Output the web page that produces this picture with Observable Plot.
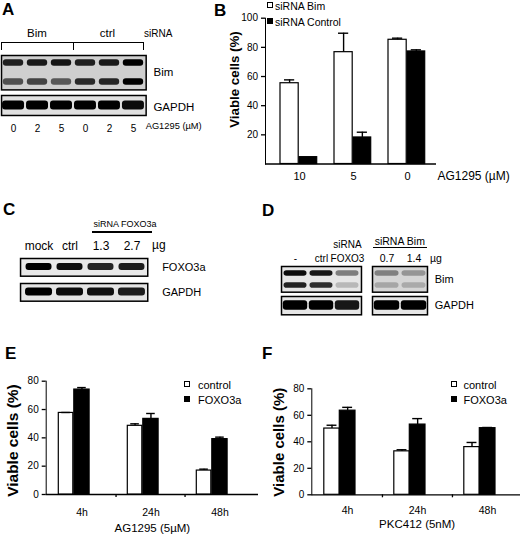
<!DOCTYPE html>
<html><head><meta charset="utf-8">
<script src="https://cdn.jsdelivr.net/npm/d3@7"></script>
<script src="https://cdn.jsdelivr.net/npm/@observablehq/plot@0.6"></script>
<style>
body{margin:0;background:#fff;}
#fig{position:relative;width:520px;height:543px;overflow:hidden;background:#fff;font-family:"Liberation Sans",Arial,Helvetica,sans-serif;color:#000;}
#fig .abs{position:absolute;line-height:1;white-space:nowrap;}
#fig .box{position:absolute;box-sizing:border-box;}
#fig svg{overflow:visible;max-width:none;}
#fig g[aria-label^="y-axis"] line, #fig g[aria-label^="y-axis"] path{stroke-width:1.3px;}
</style></head><body>
<svg width="0" height="0" style="position:absolute"><defs><filter id="blotblur" x="-30%" y="-80%" width="160%" height="260%"><feGaussianBlur stdDeviation="0.75"/></filter></defs></svg>
<div id="fig"></div>
<script>
// ---------- data: panel B ----------
const bDoses = ["10", "5", "0"];
const bSiBim = [55.4, 76.7, 85.2];
const bSiBimSem = [2.3, 13.0, 1.1];
const bSiCtrl = [4.7, 18.2, 77.2];
const bSiCtrlSem = [0, 3.6, 1.1];

// ---------- data: panels E, F ----------
const timeLabels = ["4h", "24h", "48h"];
const eControl = [57.6, 48.5, 16.9];
const eControlSem = [0.3, 1.4, 1.0];
const eFoxo = [74.1, 53.4, 39.1];
const eFoxoSem = [1.4, 3.8, 1.4];
const fControl = [50.0, 32.8, 36.0];
const fControlSem = [2.5, 1.2, 3.5];
const fFoxo = [63.5, 53.0, 50.3];
const fFoxoSem = [2.5, 4.5, 0.5];

// ---------- data: blots (relative band intensity) ----------
const aLanes = ["0", "2", "5", "0", "2", "5"];
const aBimUpper = [0.85, 0.88, 0.9, 0.85, 0.88, 1.0];
const aBimLower = [0.62, 0.68, 0.58, 0.8, 0.82, 1.0];
const aGapdh = [1, 1, 1, 1, 1, 0.95];
const cLanes = ["mock", "ctrl", "1.3", "2.7"];
const cFoxo = [1.0, 0.95, 0.85, 0.88];
const cGapdh = [1.0, 0.95, 0.92, 0.88];
const dLanesL = ["-", "ctrl", "siRNA\nFOXO3"];
const dLanesR = ["0.7", "1.4"];
const dBimUpperL = [0.95, 0.9, 0.45];
const dBimLowerL = [0.85, 0.8, 0.2];
const dBimUpperR = [0.4, 0.3];
const dBimLowerR = [0.22, 0.2];
const dGapdhL = [1, 1, 0.9];
const dGapdhR = [1, 1];

const FONT = '"Liberation Sans", Arial, Helvetica, sans-serif';
const fig = document.getElementById("fig");

function place(node, left, top) {
  const d = document.createElement("div");
  d.style.cssText = `position:absolute;left:${left}px;top:${top}px;`;
  d.appendChild(node);
  fig.appendChild(d);
}
function T(text, x, y, size, opt = {}) {
  const d = document.createElement("div");
  d.className = "abs";
  d.textContent = text;
  d.style.left = x + "px"; d.style.top = y + "px"; d.style.fontSize = size + "px";
  if (opt.weight) d.style.fontWeight = opt.weight;
  const tx = opt.anchor === "middle" ? "-50%" : opt.anchor === "end" ? "-100%" : "0";
  d.style.transform = `translate(${tx},-50%)`;
  fig.appendChild(d);
}
function B(x, y, w, h, css) {
  const d = document.createElement("div");
  d.className = "box";
  d.style.cssText += `left:${x}px;top:${y}px;width:${w}px;height:${h}px;${css}`;
  fig.appendChild(d);
}
function sq(x, yc, fill) { B(x, yc - 3, 6, 6, `border:1px solid #000;background:${fill};`); }

function barChart(o) {
  const n = o.groups.length;
  const po = o.po || 0;
  const bw = (o.xRange[1] - o.xRange[0]) / (n + 2 * po);
  const ppu = (o.height - o.mT - o.mB) / (o.yDomain[1] - o.yDomain[0]);
  const marks = [Plot.ruleY([0], {strokeWidth: 1.3})];
  for (const s of o.series) {
    const data = o.groups.map((g, i) => ({group: g, value: s.vals[i], sem: s.sems[i]}));
    const [L, R] = s.inset;
    const c = (L + bw - R) / 2;
    marks.push(Plot.barY(data, {x: "group", y: "value", fill: s.fill, stroke: "#000", strokeWidth: 1.2, insetLeft: L, insetRight: R}));
    const ed = data.filter(d => d.sem > 0);
    marks.push(Plot.ruleX(ed, {x: "group", y1: "value", y2: d => d.value + d.sem, dx: c - bw / 2, strokeWidth: 1.4}));
    marks.push(Plot.tickY(ed, {x: "group", y: d => d.value + d.sem, insetLeft: c - o.capW / 2, insetRight: bw - c - o.capW / 2, strokeWidth: 1.4}));
  }
  if (o.boundaryTicks) {
    marks.push(Plot.ruleX(o.groups.slice(1), {x: d => d, dx: -bw / 2, y1: 0, y2: -3 / ppu, strokeWidth: 1.3}));
  }
  marks.push(Plot.text(o.groups, {x: d => d, text: d => d, frameAnchor: "bottom", dy: o.xTickDy, fontSize: o.xTickSize}));
  if (o.xLabelRight) {
    marks.push(Plot.text([o.xLabel], {frameAnchor: "bottom-right", textAnchor: "start", dx: 1, dy: o.xLabelDy, fontSize: o.xLabelSize}));
  } else {
    marks.push(Plot.text([o.xLabel], {frameAnchor: "bottom", textAnchor: "middle", dy: o.xLabelDy, fontSize: o.xLabelSize}));
  }
  marks.push(Plot.text(["Viable cells (%)"], {frameAnchor: "left", textAnchor: "middle", lineAnchor: "middle", dx: o.yLabelDx, dy: o.yLabelDy, rotate: -90, fontWeight: "bold", fontSize: o.yLabelSize}));
  const svg = Plot.plot({
    width: o.width, height: o.height,
    marginLeft: o.mL, marginRight: o.mR, marginTop: o.mT, marginBottom: o.mB,
    style: {background: "transparent", overflow: "visible", maxWidth: "none", fontFamily: FONT, fontSize: "10px", color: "#000"},
    x: {domain: o.groups, range: o.xRange, paddingInner: 0, paddingOuter: po, align: o.align ?? 0.5, axis: null},
    y: {domain: o.yDomain, ticks: o.yTicks, tickSize: 4, tickPadding: 3.5, line: true, label: null, tickFormat: d => String(d)},
    marks
  });
  place(svg, o.left, o.top);
}

function strip(o) {
  const n = o.lanes.length;
  const data = [];
  o.rows.forEach(r => r.values.forEach((v, i) => data.push({lane: i, row: r.name, v})));
  const marks = [
    Plot.frame({fill: o.bg}),
    Plot.cell(data, {x: "lane", y: "row", fill: "#000", fillOpacity: d => d.v, rx: 3,
      insetLeft: o.inset[0], insetRight: o.inset[0], insetTop: o.inset[1], insetBottom: o.inset[1]}),
    Plot.frame({stroke: "#000", strokeWidth: 1.5})
  ];
  if (o.label) marks.push(Plot.text([o.label], {frameAnchor: "right", dx: o.labelDx, dy: o.labelDy || 0, textAnchor: "start", fontSize: o.labelSize}));
  if (o.laneLabels) marks.push(Plot.text(o.lanes.map((t, i) => ({i, t})), {x: "i", text: "t", frameAnchor: o.laneAt, textAnchor: "middle", dy: o.laneDy, lineAnchor: o.laneLineAnchor || "middle", lineHeight: 1.4, fontSize: o.laneSize}));
  const svg = Plot.plot({
    width: o.w, height: o.h, margin: 0,
    style: {background: "transparent", overflow: "visible", maxWidth: "none", fontFamily: FONT, fontSize: "10px", color: "#000"},
    x: {domain: d3.range(n), paddingInner: 0, paddingOuter: o.po || 0, align: o.align ?? 0.5, axis: null},
    y: {domain: o.rows.map(r => r.name), paddingInner: o.rowPad || 0, paddingOuter: 0, axis: null},
    opacity: {domain: [0, 1], range: [0, 1]},
    marks
  });
  svg.querySelectorAll('g[aria-label="cell"]').forEach(g => g.setAttribute("filter", "url(#blotblur)"));
  place(svg, o.left, o.top);
}

// ---------------- Panel A ----------------
T("A", 2, 9, 17, {weight: "bold"});
T("Bim", 37, 34, 11.5, {anchor: "middle"});
T("ctrl", 107.5, 34, 11.5, {anchor: "middle"});
T("siRNA", 144, 34, 10);
B(1, 42.3, 71.7, 7.5, "border-top:1.3px solid #000;border-left:1.3px solid #000;");
B(72.7, 42.3, 71.6, 7.5, "border-top:1.3px solid #000;border-left:1.3px solid #000;border-right:1.3px solid #000;");
strip({left: 1, top: 55.3, w: 144.7, h: 34.4, lanes: aLanes, bg: "#cfcfcf",
  rows: [{name: "upper", values: aBimUpper}, {name: "lower", values: aBimLower}], rowPad: 0.2,
  inset: [1.8, 4.2], label: "Bim", labelDx: 7.3, labelDy: -0.8, labelSize: 11.5});
strip({left: 1, top: 94.7, w: 144.7, h: 20, lanes: aLanes, bg: "#e0e0e0",
  rows: [{name: "GAPDH", values: aGapdh}], inset: [1, 5.5],
  label: "GAPDH", labelDx: 7.3, labelDy: 1.5, labelSize: 11.5,
  laneLabels: true, laneAt: "bottom", laneDy: 12, laneSize: 10});
T("AG1295 (µM)", 145.7, 126.7, 9.3);

// ---------------- Panel B ----------------
T("B", 214, 9.5, 17, {weight: "bold"});
barChart({left: 200, top: 0, width: 320, height: 200, mL: 65, mR: 84, mT: 17.7, mB: 36.5,
  groups: bDoses, xRange: [65, 236], po: 0.06, align: 0.8,
  yDomain: [0, 100], yTicks: [20, 40, 60, 80, 100],
  series: [
    {vals: bSiBim, sems: bSiBimSem, fill: "#fff", inset: [8, 27.8]},
    {vals: bSiCtrl, sems: bSiCtrlSem, fill: "#000", inset: [27, 9.3]}
  ], capW: 11,
  xTickDy: 15.8, xTickSize: 11, xLabel: "AG1295 (µM)", xLabelRight: true, xLabelDy: 15.8, xLabelSize: 12,
  yLabelDx: -31, yLabelDy: -11.6, yLabelSize: 13.3});
sq(267, 5, "#fff"); T("siRNA Bim", 275, 5.5, 10.5);
sq(267, 21, "#000"); T("siRNA Control", 275, 21.5, 10.5);

// ---------------- Panel C ----------------
T("C", 3, 209, 17, {weight: "bold"});
T("siRNA FOXO3a", 125, 224.3, 9, {anchor: "middle"});
B(92, 231, 60, 1.5, "background:#000;");
T("µg", 152, 244.8, 12);
strip({left: 20, top: 258.3, w: 127.3, h: 17.7, lanes: cLanes, bg: "#e9e9e9", po: 0.05, align: 1,
  rows: [{name: "FOXO3a", values: cFoxo}], inset: [2.5, 4.9],
  label: "FOXO3a", labelDx: 14.4, labelSize: 11,
  laneLabels: true, laneAt: "top", laneDy: -14, laneSize: 12});
strip({left: 20, top: 283.3, w: 127.3, h: 17.7, lanes: cLanes, bg: "#e4e4e4", po: 0.05, align: 1,
  rows: [{name: "GAPDH", values: cGapdh}], inset: [2, 4.6],
  label: "GAPDH", labelDx: 14.4, labelSize: 11});

// ---------------- Panel D ----------------
T("D", 262, 210, 17, {weight: "bold"});
T("siRNA Bim", 399.8, 240.7, 10.5, {anchor: "middle"});
B(372.7, 246.7, 54, 1.5, "background:#000;");
T("µg", 430, 258, 10.5);
strip({left: 280.7, top: 266, w: 80, h: 25.7, lanes: dLanesL, bg: "#e6e6e6",
  rows: [{name: "upper", values: dBimUpperL}, {name: "lower", values: dBimLowerL}], inset: [1.5, 3.2],
  laneLabels: true, laneAt: "top", laneDy: -4.5, laneLineAnchor: "bottom", laneSize: 10});
strip({left: 371.7, top: 266, w: 55, h: 25.7, lanes: dLanesR, bg: "#d5d5d5",
  rows: [{name: "upper", values: dBimUpperR}, {name: "lower", values: dBimLowerR}], inset: [1.5, 3.2],
  label: "Bim", labelDx: 7.3, labelSize: 11,
  laneLabels: true, laneAt: "top", laneDy: -4.5, laneLineAnchor: "bottom", laneSize: 10.5});
strip({left: 280.7, top: 296, w: 80, h: 18.3, lanes: dLanesL, bg: "#e6e6e6",
  rows: [{name: "GAPDH", values: dGapdhL}], inset: [0.8, 4.3]});
strip({left: 371.7, top: 296, w: 55, h: 18.3, lanes: dLanesR, bg: "#e6e6e6",
  rows: [{name: "GAPDH", values: dGapdhR}], inset: [0.8, 4.3],
  label: "GAPDH", labelDx: 7.3, labelSize: 11});

// ---------------- Panel E ----------------
T("E", 5, 353.3, 17, {weight: "bold"});
barChart({left: 0, top: 340, width: 260, height: 203, mL: 45.7, mR: 2, mT: 40.7, mB: 49,
  groups: timeLabels, xRange: [45.7, 255.4],
  yDomain: [0, 80], yTicks: [0, 20, 40, 60, 80],
  series: [
    {vals: eControl, sems: eControlSem, fill: "#fff", inset: [11.3, 43.2]},
    {vals: eFoxo, sems: eFoxoSem, fill: "#000", inset: [26.8, 26.9]}
  ], capW: 9.5, boundaryTicks: true,
  xTickDy: 21, xTickSize: 10.5, xLabel: "AG1295 (5µM)", xLabelDy: 37.7, xLabelSize: 11.5,
  yLabelDx: -33.2, yLabelDy: 2.7, yLabelSize: 15.5});
sq(183.5, 384, "#fff"); T("control", 198, 384.5, 11);
sq(183.5, 399, "#000"); T("FOXO3a", 198, 399.5, 11);

// ---------------- Panel F ----------------
T("F", 262, 353, 17, {weight: "bold"});
barChart({left: 260, top: 340, width: 263, height: 203, mL: 51.3, mR: 1, mT: 48.3, mB: 48.7,
  groups: timeLabels, xRange: [51.5, 261.8],
  yDomain: [0, 80], yTicks: [0, 20, 40, 60, 80],
  series: [
    {vals: fControl, sems: fControlSem, fill: "#fff", inset: [11.8, 42.8]},
    {vals: fFoxo, sems: fFoxoSem, fill: "#000", inset: [27.3, 27]}
  ], capW: 10, boundaryTicks: true,
  xTickDy: 19, xTickSize: 10.5, xLabel: "PKC412 (5nM)", xLabelDy: 33.4, xLabelSize: 11.5,
  yLabelDx: -32.5, yLabelDy: 0.4, yLabelSize: 15});
sq(451, 384, "#fff"); T("control", 463.5, 384.5, 11);
sq(451, 399, "#000"); T("FOXO3a", 463.5, 399.5, 11);
</script>
</body></html>
